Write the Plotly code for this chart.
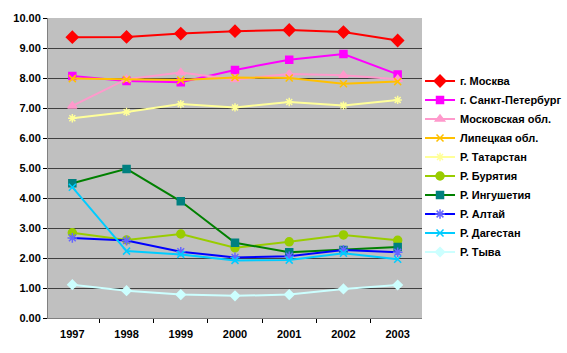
import plotly.graph_objects as go

years = ["1997", "1998", "1999", "2000", "2001", "2002", "2003"]

moskva = [9.36, 9.37, 9.48, 9.56, 9.60, 9.53, 9.25]
spb = [8.07, 7.90, 7.86, 8.27, 8.61, 8.80, 8.12]
mosobl = [7.07, 7.96, 8.18, 7.95, 8.13, 8.09, 7.96]
lipetsk = [7.98, 7.95, 7.93, 8.02, 8.00, 7.81, 7.88]
tatarstan = [6.66, 6.87, 7.13, 7.02, 7.20, 7.08, 7.27]
buryatia = [2.84, 2.60, 2.80, 2.34, 2.54, 2.77, 2.59]
ingushetia = [4.49, 4.97, 3.89, 2.51, 2.19, 2.27, 2.37]
altai = [2.67, 2.58, 2.21, 2.02, 2.06, 2.27, 2.19]
dagestan = [4.36, 2.23, 2.12, 1.92, 1.93, 2.16, 1.96]
tyva = [1.11, 0.91, 0.78, 0.74, 0.78, 0.97, 1.10]

series = [
    ("г. Москва", moskva, "#FF0000", "diamond", "#FF0000", 9),
    ("г. Санкт-Петербург", spb, "#FF00FF", "square", "#FF00FF", 7),
    ("Московская обл.", mosobl, "#FF99CC", "triangle-up", "#FF99CC", 8),
    ("Липецкая обл.", lipetsk, "#FFC000", "x-thin-open", "#FFC000", 7),
    ("Р. Татарстан", tatarstan, "#FFFF99", "asterisk-open", "#FFFF99", 7),
    ("Р. Бурятия", buryatia, "#99CC00", "circle", "#99CC00", 8),
    ("Р. Ингушетия", ingushetia, "#008000", "square", "#008080", 7),
    ("Р. Алтай", altai, "#0000FF", "asterisk-open", "#6666FF", 8),
    ("Р. Дагестан", dagestan, "#00CCFF", "x-thin-open", "#00CCFF", 7),
    ("Р. Тыва", tyva, "#CCFFFF", "diamond", "#CCFFFF", 7),
]

fig = go.Figure()
for name, vals, col, sym, mcol, size in series:
    fig.add_trace(go.Scatter(
        x=years, y=vals, name=name, mode="lines+markers",
        line=dict(color=col, width=2),
        marker=dict(symbol=sym, color=mcol, size=size,
                    line=dict(color=mcol, width=1.5)),
    ))

fig.update_layout(
    width=567, height=353,
    margin=dict(l=48, r=145, t=18, b=35, autoexpand=False),
    paper_bgcolor="white",
    plot_bgcolor="#C0C0C0",
    font=dict(family="Liberation Sans, Arial, sans-serif", size=11, color="black"),
    showlegend=True,
    legend=dict(
        x=0.9947, y=0.505, xanchor="left", yanchor="middle",
        font=dict(size=11, family="Liberation Sans, Arial, sans-serif", color="black", weight="bold"),
        bgcolor="rgba(0,0,0,0)", tracegroupgap=0, itemwidth=30,
    ),
    xaxis=dict(
        type="category", showgrid=False, showline=True, linecolor="#808080", linewidth=1,
        ticks="outside", tickson="boundaries", ticklen=4, tickcolor="#000000",
        tickfont=dict(size=11, weight="bold"), ticklabelstandoff=6, automargin=False,
    ),
    yaxis=dict(
        range=[0, 10], dtick=1, tickformat=".2f", showgrid=True,
        gridcolor="#404040", gridwidth=1, showline=True, linecolor="#808080",
        ticks="outside", ticklen=4, tickcolor="#000000",
        tickfont=dict(size=11, weight="bold"), zeroline=False, automargin=False,
    ),
)

fig.write_html("out.html")
